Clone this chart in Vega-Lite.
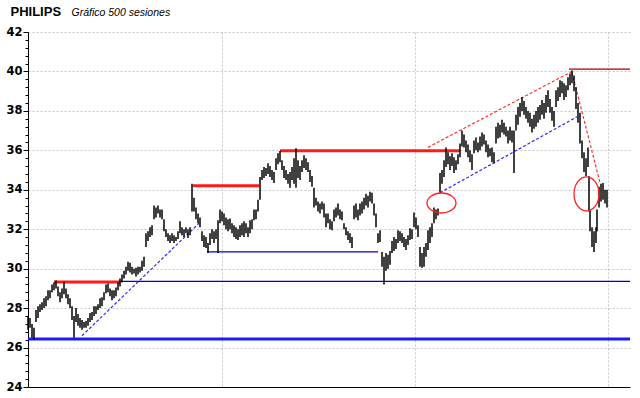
{
  "$schema": "https://vega.github.io/schema/vega-lite/v6.json",
  "width": 602,
  "height": 355,
  "autosize": {"type": "none"},
  "padding": {"left": 28, "top": 32, "right": 10, "bottom": 11},
  "background": "#ffffff",
  "config": {"view": {"stroke": null}},
  "datasets": {
    "precios": [
      {"t":0,"p":26.9,"p2":27.6},{"t":2,"p":27.0,"p2":27.5},{"t":4,"p":26.5,"p2":27.2},{"t":6,"p":26.4,"p2":27.0},{"t":8,"p":27.3,"p2":27.9},
      {"t":10,"p":27.5,"p2":28.1},{"t":12,"p":27.8,"p2":28.2},{"t":14,"p":27.9,"p2":28.3},{"t":16,"p":28.0,"p2":28.5},{"t":18,"p":28.1,"p2":28.6},
      {"t":20,"p":28.4,"p2":28.9},{"t":22,"p":28.5,"p2":28.9},{"t":24,"p":28.8,"p2":29.2},{"t":26,"p":28.9,"p2":29.3},{"t":28,"p":29.0,"p2":29.4},
      {"t":30,"p":28.6,"p2":29.1},{"t":32,"p":28.3,"p2":28.8},{"t":34,"p":28.5,"p2":29.0},{"t":36,"p":28.7,"p2":29.35},{"t":38,"p":28.5,"p2":29.0},
      {"t":40,"p":28.2,"p2":28.7},{"t":42,"p":28.0,"p2":28.5},{"t":44,"p":27.4,"p2":28.1},{"t":46,"p":26.5,"p2":27.6},{"t":48,"p":27.3,"p2":28.0},
      {"t":50,"p":27.1,"p2":27.7},{"t":52,"p":27.0,"p2":27.5},{"t":54,"p":26.9,"p2":27.4},{"t":56,"p":27.0,"p2":27.3},{"t":58,"p":27.0,"p2":27.35},
      {"t":60,"p":27.1,"p2":27.5},{"t":62,"p":27.3,"p2":27.75},{"t":64,"p":27.4,"p2":27.8},{"t":66,"p":27.6,"p2":28.1},{"t":68,"p":27.7,"p2":28.1},
      {"t":70,"p":27.9,"p2":28.2},{"t":72,"p":28.0,"p2":28.5},{"t":74,"p":28.1,"p2":28.55},{"t":76,"p":28.4,"p2":28.8},{"t":78,"p":28.75,"p2":29.2},
      {"t":80,"p":28.8,"p2":29.25},{"t":82,"p":28.6,"p2":29.0},{"t":84,"p":28.4,"p2":28.9},{"t":86,"p":28.5,"p2":28.9},{"t":88,"p":28.6,"p2":29.05},
      {"t":90,"p":28.9,"p2":29.3},{"t":92,"p":29.1,"p2":29.5},{"t":94,"p":29.3,"p2":29.7},{"t":96,"p":29.5,"p2":29.9},{"t":98,"p":29.7,"p2":30.1},
      {"t":100,"p":29.9,"p2":30.35},{"t":102,"p":29.8,"p2":30.3},{"t":104,"p":29.7,"p2":30.1},{"t":106,"p":29.75,"p2":30.0},{"t":108,"p":29.6,"p2":30.05},
      {"t":110,"p":29.7,"p2":30.1},{"t":112,"p":29.8,"p2":30.1},{"t":114,"p":29.9,"p2":30.4},{"t":116,"p":30.1,"p2":30.6},{"t":118,"p":31.1,"p2":31.8},
      {"t":120,"p":31.4,"p2":31.9},{"t":122,"p":31.6,"p2":32.1},{"t":124,"p":31.7,"p2":32.2},{"t":126,"p":32.5,"p2":33.2},{"t":128,"p":32.6,"p2":33.1},
      {"t":130,"p":32.8,"p2":33.2},{"t":132,"p":32.6,"p2":33.0},{"t":134,"p":32.5,"p2":33.0},{"t":136,"p":31.9,"p2":32.5},{"t":138,"p":31.6,"p2":32.0},
      {"t":140,"p":31.4,"p2":31.8},{"t":142,"p":31.3,"p2":31.7},{"t":144,"p":31.4,"p2":31.8},{"t":146,"p":31.3,"p2":31.7},{"t":148,"p":31.4,"p2":31.6},
      {"t":150,"p":31.5,"p2":31.9},{"t":152,"p":31.8,"p2":32.4},{"t":154,"p":31.7,"p2":32.1},{"t":156,"p":31.6,"p2":32.0},{"t":158,"p":31.8,"p2":32.1},
      {"t":160,"p":31.55,"p2":32.0},{"t":162,"p":31.7,"p2":32.1},{"t":164,"p":32.9,"p2":34.3},{"t":166,"p":32.9,"p2":33.6},{"t":168,"p":32.5,"p2":33.1},
      {"t":170,"p":32.3,"p2":32.8},{"t":172,"p":32.1,"p2":32.6},{"t":174,"p":31.4,"p2":31.9},{"t":176,"p":31.1,"p2":31.7},{"t":178,"p":31.05,"p2":31.6},
      {"t":180,"p":30.8,"p2":31.3},{"t":182,"p":31.2,"p2":31.8},{"t":184,"p":31.5,"p2":32.0},{"t":186,"p":31.3,"p2":31.9},{"t":188,"p":31.5,"p2":32.0},
      {"t":190,"p":30.8,"p2":32.45},{"t":192,"p":32.3,"p2":33.0},{"t":194,"p":32.4,"p2":32.9},{"t":196,"p":32.2,"p2":32.8},{"t":198,"p":32.0,"p2":32.6},
      {"t":200,"p":31.9,"p2":32.5},{"t":202,"p":32.0,"p2":32.55},{"t":204,"p":31.8,"p2":32.3},{"t":206,"p":31.6,"p2":32.2},{"t":208,"p":31.5,"p2":32.1},
      {"t":210,"p":31.45,"p2":32.0},{"t":212,"p":31.6,"p2":32.2},{"t":214,"p":31.7,"p2":32.3},{"t":216,"p":31.6,"p2":32.4},{"t":218,"p":31.8,"p2":32.3},
      {"t":220,"p":31.6,"p2":32.1},{"t":222,"p":31.8,"p2":32.45},{"t":224,"p":32.0,"p2":32.5},{"t":226,"p":32.45,"p2":33.0},{"t":228,"p":32.5,"p2":33.0},
      {"t":230,"p":32.9,"p2":33.5},{"t":232,"p":33.5,"p2":34.65},{"t":234,"p":34.5,"p2":35.0},{"t":236,"p":34.6,"p2":35.15},{"t":238,"p":34.7,"p2":35.1},
      {"t":240,"p":34.8,"p2":35.35},{"t":242,"p":34.65,"p2":35.2},{"t":244,"p":34.5,"p2":35.0},{"t":246,"p":34.35,"p2":34.9},{"t":248,"p":35.0,"p2":35.6},
      {"t":250,"p":35.3,"p2":35.85},{"t":252,"p":35.4,"p2":35.97},{"t":254,"p":35.0,"p2":35.5},{"t":256,"p":34.6,"p2":35.2},{"t":258,"p":34.5,"p2":35.0},
      {"t":260,"p":34.3,"p2":34.8},{"t":262,"p":34.1,"p2":34.9},{"t":264,"p":34.5,"p2":35.15},{"t":266,"p":34.3,"p2":35.6},{"t":268,"p":34.1,"p2":36.1},
      {"t":270,"p":34.6,"p2":35.5},{"t":272,"p":34.5,"p2":35.2},{"t":274,"p":34.9,"p2":35.5},{"t":276,"p":35.1,"p2":35.75},{"t":278,"p":35.0,"p2":35.6},
      {"t":280,"p":34.9,"p2":35.4},{"t":282,"p":34.4,"p2":35.0},{"t":284,"p":34.15,"p2":34.7},{"t":286,"p":33.1,"p2":34.1},{"t":288,"p":33.2,"p2":33.6},
      {"t":290,"p":32.9,"p2":33.4},{"t":292,"p":32.8,"p2":33.3},{"t":294,"p":33.0,"p2":33.4},{"t":296,"p":32.6,"p2":33.3},{"t":298,"p":32.1,"p2":32.8},
      {"t":300,"p":32.3,"p2":32.8},{"t":302,"p":32.0,"p2":32.5},{"t":304,"p":31.95,"p2":32.4},{"t":306,"p":32.4,"p2":33.0},{"t":308,"p":32.6,"p2":33.1},
      {"t":310,"p":32.7,"p2":33.3},{"t":312,"p":32.5,"p2":33.0},{"t":314,"p":32.45,"p2":32.9},{"t":316,"p":32.0,"p2":32.3},{"t":318,"p":31.7,"p2":32.1},
      {"t":320,"p":31.45,"p2":31.9},{"t":322,"p":31.3,"p2":31.8},{"t":324,"p":31.05,"p2":31.6},{"t":326,"p":32.5,"p2":33.2},{"t":328,"p":32.6,"p2":33.3},
      {"t":330,"p":32.45,"p2":33.0},{"t":332,"p":32.7,"p2":33.3},{"t":334,"p":32.8,"p2":33.4},{"t":336,"p":33.0,"p2":33.6},{"t":338,"p":33.2,"p2":33.8},
      {"t":340,"p":33.1,"p2":33.7},{"t":342,"p":33.4,"p2":33.9},{"t":344,"p":33.3,"p2":33.85},{"t":346,"p":32.7,"p2":33.3},{"t":348,"p":32.1,"p2":32.8},
      {"t":350,"p":31.3,"p2":31.8},{"t":352,"p":31.35,"p2":31.95},{"t":354,"p":30.1,"p2":30.85},{"t":356,"p":29.2,"p2":30.6},{"t":358,"p":29.9,"p2":30.8},
      {"t":360,"p":30.0,"p2":30.7},{"t":362,"p":30.2,"p2":30.9},{"t":364,"p":30.8,"p2":31.4},{"t":366,"p":30.9,"p2":31.6},{"t":368,"p":31.0,"p2":31.5},
      {"t":370,"p":31.3,"p2":31.95},{"t":372,"p":31.4,"p2":31.9},{"t":374,"p":31.3,"p2":31.8},{"t":376,"p":31.1,"p2":31.6},{"t":378,"p":30.95,"p2":31.5},
      {"t":380,"p":31.2,"p2":31.7},{"t":382,"p":31.45,"p2":32.05},{"t":384,"p":31.5,"p2":32.0},{"t":386,"p":32.1,"p2":32.85},{"t":388,"p":32.0,"p2":32.6},
      {"t":390,"p":31.6,"p2":32.2},{"t":392,"p":30.1,"p2":31.1},{"t":394,"p":30.05,"p2":30.8},{"t":396,"p":30.1,"p2":31.1},{"t":398,"p":30.6,"p2":31.3},
      {"t":400,"p":30.95,"p2":31.95},{"t":402,"p":31.3,"p2":32.1},{"t":404,"p":31.6,"p2":32.3},{"t":406,"p":32.3,"p2":33.1},{"t":408,"p":32.5,"p2":33.0},
      {"t":410,"p":32.7,"p2":33.05},{"t":412,"p":33.85,"p2":34.85},{"t":414,"p":34.3,"p2":35.0},{"t":416,"p":34.65,"p2":35.5},{"t":418,"p":35.15,"p2":36.15},
      {"t":420,"p":35.3,"p2":35.9},{"t":422,"p":35.0,"p2":35.7},{"t":424,"p":35.2,"p2":35.85},{"t":426,"p":34.85,"p2":35.65},{"t":428,"p":35.0,"p2":35.5},
      {"t":430,"p":35.3,"p2":35.8},{"t":432,"p":35.65,"p2":36.35},{"t":434,"p":36.2,"p2":37.0},{"t":436,"p":36.15,"p2":36.8},{"t":438,"p":35.9,"p2":36.5},
      {"t":440,"p":35.65,"p2":36.3},{"t":442,"p":35.4,"p2":36.0},{"t":444,"p":35.0,"p2":35.8},{"t":446,"p":35.85,"p2":36.5},{"t":448,"p":36.0,"p2":36.65},
      {"t":450,"p":35.9,"p2":36.4},{"t":452,"p":36.0,"p2":36.7},{"t":454,"p":36.2,"p2":36.9},{"t":456,"p":36.3,"p2":36.8},{"t":458,"p":35.9,"p2":36.5},
      {"t":460,"p":35.65,"p2":36.3},{"t":462,"p":35.7,"p2":36.1},{"t":464,"p":35.4,"p2":36.15},{"t":466,"p":35.35,"p2":35.9},{"t":468,"p":36.35,"p2":37.2},
      {"t":470,"p":36.6,"p2":37.4},{"t":472,"p":36.65,"p2":37.3},{"t":474,"p":36.9,"p2":37.55},{"t":476,"p":36.8,"p2":37.4},{"t":478,"p":36.7,"p2":37.2},
      {"t":480,"p":36.35,"p2":37.0},{"t":482,"p":36.5,"p2":37.2},{"t":484,"p":36.4,"p2":37.0},{"t":486,"p":34.85,"p2":37.0},{"t":488,"p":37.0,"p2":37.8},
      {"t":490,"p":37.3,"p2":38.2},{"t":492,"p":37.7,"p2":38.4},{"t":494,"p":38.0,"p2":38.7},{"t":496,"p":37.8,"p2":38.5},{"t":498,"p":37.6,"p2":38.2},
      {"t":500,"p":37.4,"p2":38.0},{"t":502,"p":37.2,"p2":37.9},{"t":504,"p":36.9,"p2":37.6},{"t":506,"p":37.1,"p2":37.8},{"t":508,"p":37.2,"p2":38.0},
      {"t":510,"p":37.4,"p2":38.2},{"t":512,"p":37.55,"p2":38.3},{"t":514,"p":37.8,"p2":38.55},{"t":516,"p":37.6,"p2":38.4},{"t":518,"p":37.9,"p2":38.8},
      {"t":520,"p":38.2,"p2":39.05},{"t":522,"p":37.9,"p2":38.6},{"t":524,"p":37.5,"p2":38.2},{"t":526,"p":37.2,"p2":38.0},{"t":528,"p":38.2,"p2":39.05},
      {"t":530,"p":38.5,"p2":39.2},{"t":532,"p":38.7,"p2":39.55},{"t":534,"p":38.9,"p2":39.5},{"t":536,"p":38.55,"p2":39.4},{"t":538,"p":38.7,"p2":39.3},
      {"t":540,"p":39.05,"p2":39.7},{"t":542,"p":39.3,"p2":39.9},{"t":544,"p":39.4,"p2":40.05},{"t":546,"p":39.0,"p2":39.8},{"t":548,"p":38.1,"p2":39.2},
      {"t":550,"p":37.4,"p2":38.4},{"t":552,"p":36.35,"p2":37.9},{"t":554,"p":35.6,"p2":36.5},{"t":556,"p":34.9,"p2":35.9},{"t":558,"p":34.7,"p2":35.6},
      {"t":560,"p":35.15,"p2":36.15},{"t":561,"p":32.9,"p2":34.7},{"t":562,"p":31.9,"p2":32.97},{"t":564,"p":31.1,"p2":32.1},{"t":566,"p":30.85,"p2":31.9},
      {"t":568,"p":31.3,"p2":32.1},{"t":569,"p":31.9,"p2":33.0},{"t":571,"p":33.1,"p2":34.15},{"t":573,"p":33.4,"p2":34.3},{"t":575,"p":33.5,"p2":34.35},
      {"t":577,"p":33.3,"p2":34.0},{"t":579,"p":33.1,"p2":34.0}
    ],
    "lineas": [
      {"tipo":"soporte_principal","t":0,"t2":602,"p":26.43,"p2":26.43},
      {"tipo":"resistencia","t":26,"t2":92,"p":29.33,"p2":29.33},
      {"tipo":"resistencia","t":165,"t2":231,"p":34.2,"p2":34.2},
      {"tipo":"resistencia","t":252,"t2":432,"p":35.98,"p2":35.98},
      {"tipo":"soporte","t":92,"t2":602,"p":29.36,"p2":29.36},
      {"tipo":"soporte","t":179,"t2":350,"p":30.85,"p2":30.85},
      {"tipo":"directriz_azul","t":54,"t2":171,"p":26.6,"p2":32.3},
      {"tipo":"directriz_azul","t":412,"t2":549,"p":33.85,"p2":37.7},
      {"tipo":"directriz_roja","t":400,"t2":544,"p":36.15,"p2":40.0},
      {"tipo":"directriz_roja","t":544,"t2":572,"p":39.95,"p2":34.35},
      {"tipo":"maximo","t":541,"t2":602,"p":40.12,"p2":40.12}
    ],
    "elipses": [
      {"zona":"ruptura","t":413.5,"p":33.33},
      {"zona":"gap","t":558.5,"p":33.79}
    ]
  },
  "encoding": {
    "x": {"field": "t", "type": "quantitative", "scale": {"domain": [0, 602], "nice": false, "zero": false},
      "axis": {"values": [194, 387, 580], "grid": true, "gridColor": "#c6c6c6", "gridDash": [2, 2], "gridWidth": 1,
        "ticks": false, "labels": false, "domain": true, "domainColor": "#000000", "domainWidth": 1,
        "title": "PHILIPS", "titleX": -18, "titleY": -372, "titleAlign": "left", "titleBaseline": "alphabetic", "titleAngle": 0,
        "titleFont": "Liberation Sans", "titleFontSize": 13, "titleFontWeight": "bold", "titleColor": "#000000", "titlePadding": 0}},
    "y": {"field": "p", "type": "quantitative", "scale": {"domain": [24, 42], "nice": false, "zero": false},
      "axis": {"values": [24,24.4,24.8,25.2,25.6,26,26.4,26.8,27.2,27.6,28,28.4,28.8,29.2,29.6,30,30.4,30.8,31.2,31.6,32,32.4,32.8,33.2,33.6,34,34.4,34.8,35.2,35.6,36,36.4,36.8,37.2,37.6,38,38.4,38.8,39.2,39.6,40,40.4,40.8,41.2,41.6,42],
        "grid": true, "gridColor": "#c6c6c6", "gridDash": [2, 2], "gridWidth": 1,
        "gridOpacity": {"condition": {"test": "datum.value % 2 < 0.01", "value": 1}, "value": 0},
        "tickSize": {"condition": {"test": "datum.value % 2 < 0.01", "value": 5}, "value": 3},
        "tickColor": "#000000", "tickWidth": 1, "domainColor": "#000000", "domainWidth": 1,
        "labelExpr": "datum.value % 2 < 0.01 ? format(datum.value, 'd') : ''",
        "labelOverlap": false, "labelBound": false,
        "labelFont": "DejaVu Sans", "labelFontSize": 11.5, "labelFontWeight": "bold", "labelColor": "#000000", "labelPadding": 1,
        "title": "Gráfico 500 sesiones", "titleX": 43, "titleY": -17, "titleAngle": 0, "titleAlign": "left", "titleBaseline": "alphabetic",
        "titleFont": "Liberation Sans", "titleFontSize": 10.5, "titleFontStyle": "italic", "titleFontWeight": "normal", "titleColor": "#000000"}}
  },
  "layer": [
    {
      "data": {"name": "lineas"},
      "transform": [{"filter": "datum.tipo == 'soporte_principal'"}],
      "mark": {"type": "rule", "color": "#1a1aff", "strokeWidth": 3},
      "encoding": {"x2": {"field": "t2"}, "y2": {"field": "p2"}}
    },
    {
      "data": {"name": "lineas"},
      "transform": [{"filter": "datum.tipo == 'soporte'"}],
      "mark": {"type": "rule", "color": "#0000cc", "strokeWidth": 1.2},
      "encoding": {"x2": {"field": "t2"}, "y2": {"field": "p2"}}
    },
    {
      "data": {"name": "lineas"},
      "transform": [{"filter": "datum.tipo == 'resistencia'"}],
      "mark": {"type": "rule", "color": "#ff1a1a", "strokeWidth": 3},
      "encoding": {"x2": {"field": "t2"}, "y2": {"field": "p2"}}
    },
    {
      "data": {"name": "lineas"},
      "transform": [{"filter": "datum.tipo == 'directriz_azul'"}],
      "mark": {"type": "rule", "color": "#2a2aff", "strokeWidth": 1.2, "strokeDash": [3, 2]},
      "encoding": {"x2": {"field": "t2"}, "y2": {"field": "p2"}}
    },
    {
      "data": {"name": "lineas"},
      "transform": [{"filter": "datum.tipo == 'directriz_roja'"}],
      "mark": {"type": "rule", "color": "#ff3030", "strokeWidth": 1.2, "strokeDash": [3, 2]},
      "encoding": {"x2": {"field": "t2"}, "y2": {"field": "p2"}}
    },
    {
      "data": {"name": "lineas"},
      "transform": [{"filter": "datum.tipo == 'maximo'"}],
      "mark": {"type": "rule", "color": "#b00000", "strokeWidth": 1.2},
      "encoding": {"x2": {"field": "t2"}, "y2": {"field": "p2"}}
    },
    {
      "data": {"name": "precios"},
      "mark": {"type": "rule", "color": "#000000", "strokeWidth": 1.5},
      "encoding": {"y2": {"field": "p2"}}
    },
    {
      "data": {"name": "elipses"},
      "transform": [{"filter": "datum.zona == 'ruptura'"}],
      "mark": {"type": "point", "filled": false, "stroke": "#ff2020", "strokeWidth": 1.3, "opacity": 1, "size": 841,
        "shape": "M1,0 C1,0.381 0.552,0.69 0,0.69 C-0.552,0.69 -1,0.381 -1,0 C-1,-0.381 -0.552,-0.69 0,-0.69 C0.552,-0.69 1,-0.381 1,0 Z"},
      "encoding": {}
    },
    {
      "data": {"name": "elipses"},
      "transform": [{"filter": "datum.zona == 'gap'"}],
      "mark": {"type": "point", "filled": false, "stroke": "#ff2020", "strokeWidth": 1.3, "opacity": 1, "size": 1156,
        "shape": "M0.735,0 C0.735,0.552 0.406,1 0,1 C-0.406,1 -0.735,0.552 -0.735,0 C-0.735,-0.552 -0.406,-1 0,-1 C0.406,-1 0.735,-0.552 0.735,0 Z"},
      "encoding": {}
    }
  ]
}
